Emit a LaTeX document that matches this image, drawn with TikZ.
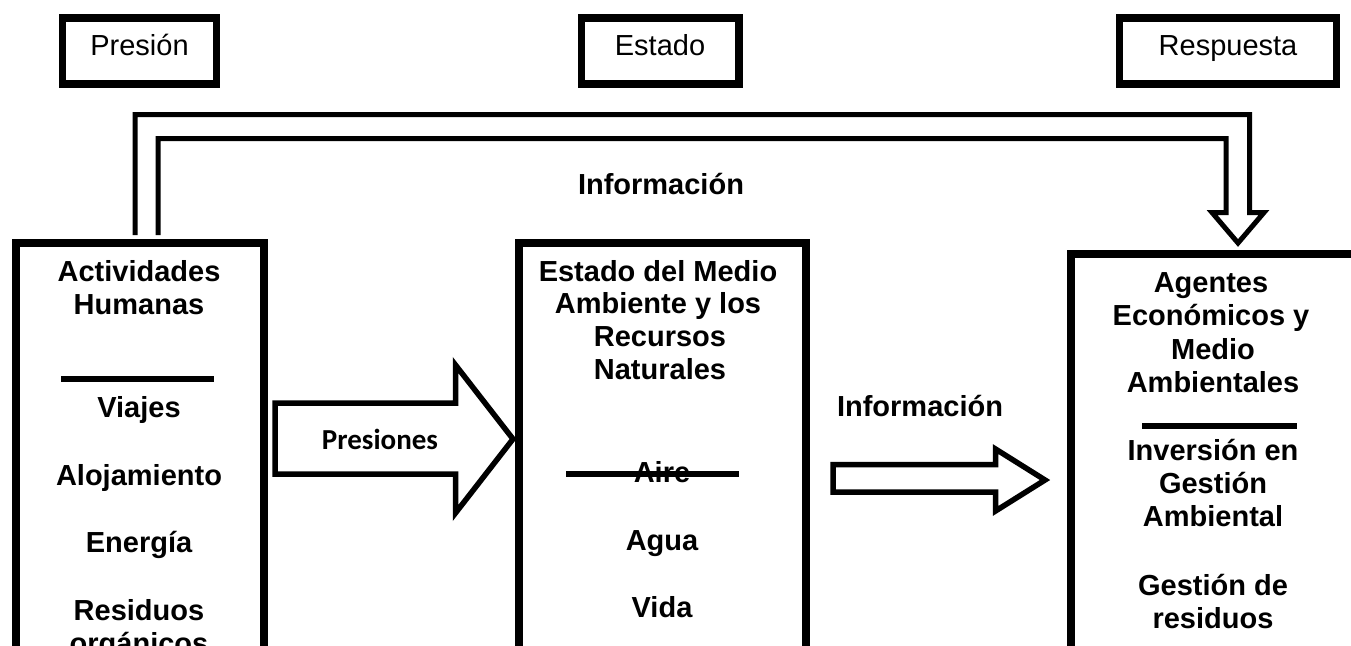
\documentclass[tikz,border=0pt]{standalone}
\usepackage{fontspec}
\setmainfont{Liberation Sans}
\newfontfamily\carlito{Carlito}
\usepackage{tikz}
\newcommand\grande{\fontsize{29}{33.3}\selectfont}

\tikzset{
  etiqueta/.style={draw, line width=7.5pt, minimum height=66pt, inner sep=0pt,
    text height=21pt, text depth=13pt, font=\grande},
  caja/.style={draw, line width=8pt, outer sep=0pt, inner sep=0pt, anchor=north west},
  flecha/.style={draw, line width=5.5pt, fill=white, line join=miter},
  retro/.style={draw, line width=5pt, line join=miter},
  raya/.style={line width=6pt},
  texto/.style={anchor=base, inner sep=0pt, font=\grande\bfseries}
}

\begin{document}
\begin{tikzpicture}[x=1pt,y=-1pt]
\useasboundingbox (0,0) rectangle (1351,645);
\clip (0,0) rectangle (1351,645);

% to write entities
\node [etiqueta, minimum width=154pt] (presion) at (139.5,51) {Presión};
\node [etiqueta, minimum width=157.5pt] (estado) at (660,51) {Estado};
\node [etiqueta, minimum width=217pt] (respuesta) at (1228,51) {Respuesta};

% to draw the three main boxes
\node [caja, minimum width=248pt, minimum height=450pt] (humanas) at (15.5,242.5) {};
\node [caja, minimum width=286.5pt, minimum height=450pt] (medio) at (519,242.5) {};
\node [caja, minimum width=400pt, minimum height=450pt] (agentes) at (1071,253.5) {};

% to draw double arrow (feedback)
\draw [retro] (135,235) |- (1249.5,114.5) -- (1249.5,212.5) -- (1264,212.5) -- (1238,243)
  -- (1212,212.5) -- (1226,212.5) |- (158,138.5) -- (158,235);
\node [texto] (info1) at (661,194) {Información};

%Actividades humanas:
\node [texto] (act1) at (139,281) {Actividades};
\node [texto] (act2) at (139,314.5) {Humanas};
\draw [raya] (61,379) -- (214,379);
\node [texto] (viajes) at (139,417) {Viajes};
\node [texto] (aloja) at (139,485) {Alojamiento};
\node [texto] (energia) at (139,552.5) {Energía};
\node [texto] (resid1) at (139,620) {Residuos};
\node [texto] (resid2) at (139,653.5) {orgánicos};

% to draw arrow with text
\draw [flecha] (275,403) -- (455.5,403) -- (455.5,365) -- (513,439) -- (455.5,513)
  -- (455.5,474) -- (275,474) -- cycle;
\node [texto, font=\carlito\grande\bfseries] (presiones) at (380,449) {Presiones};

%Estado del medio:
\node [texto] (est1) at (658,281) {Estado del Medio};
\node [texto] (est2) at (658,313.5) {Ambiente y los};
\node [texto] (est3) at (660,346) {Recursos};
\node [texto] (est4) at (660,379) {Naturales};
\node [texto] (aire) at (662,482) {Aire};
\draw [raya] (566,474) -- (739,474);
\node [texto] (agua) at (662,550) {Agua};
\node [texto] (vida) at (662,617) {Vida};

% to draw second arrow
\node [texto] (info2) at (920,416.7) {Información};
\draw [flecha] (833,464.5) -- (995.5,464.5) -- (995.5,449) -- (1045,480) -- (995.5,511)
  -- (995.5,492) -- (833,492) -- cycle;

%Agentes side:
\node [texto] (age1) at (1211,292) {Agentes};
\node [texto] (age2) at (1211,325.5) {Económicos y};
\node [texto] (age3) at (1213,359) {Medio};
\node [texto] (age4) at (1213,392) {Ambientales};
\draw [raya] (1142,426) -- (1297,426);
\node [texto] (inv1) at (1213,460) {Inversión en};
\node [texto] (inv2) at (1213,493) {Gestión};
\node [texto] (inv3) at (1213,526.5) {Ambiental};
\node [texto] (ges1) at (1213,595) {Gestión de};
\node [texto] (ges2) at (1213,628) {residuos};
\end{tikzpicture}
\end{document}
